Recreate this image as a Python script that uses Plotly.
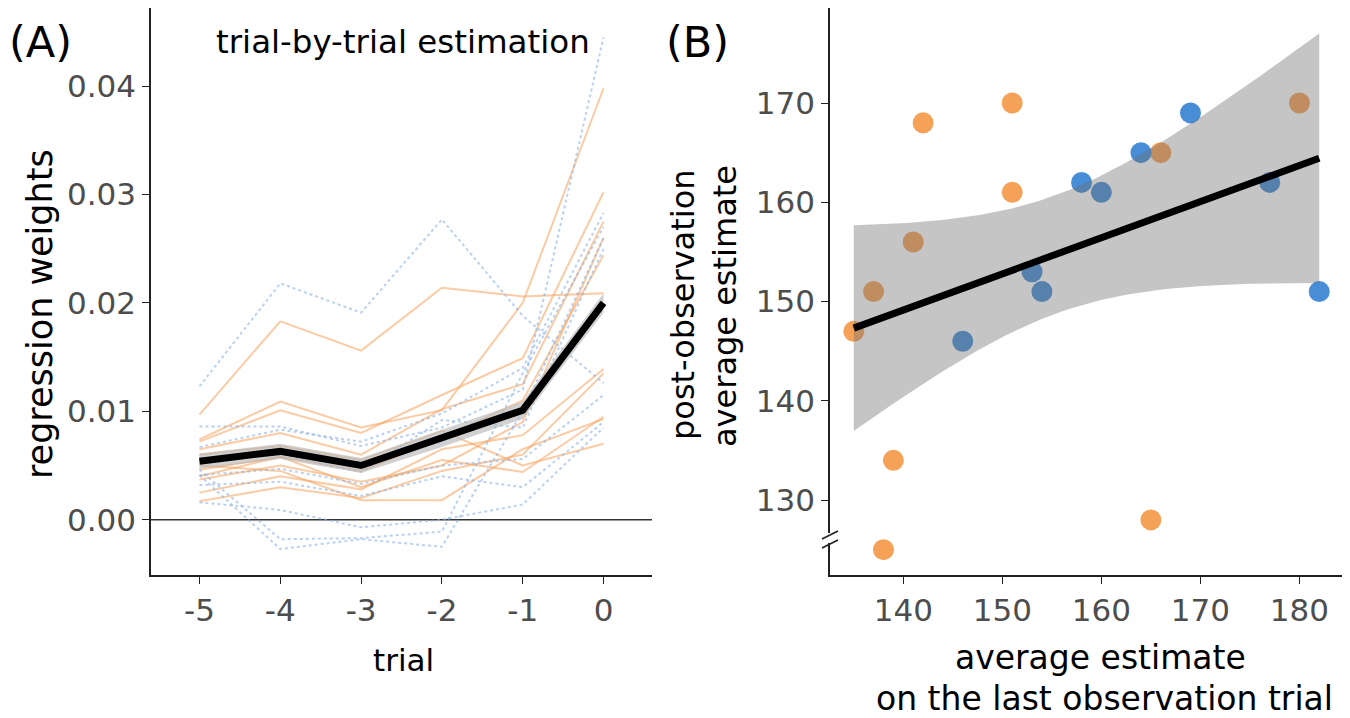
import numpy as np
import plotly.graph_objects as go

# page body has an 8px margin; the figure is sized so it ends at the window edge
OFF = 8
W, H = 1350 - OFF, 718 - OFF

# ---------------- Panel A data ----------------
trials = [-5, -4, -3, -2, -1, 0]
tick_trials = ["-5", "-4", "-3", "-2", "-1", "0"]

blue_lines = [
    [0.0123, 0.0218, 0.0191, 0.0277, 0.0188, 0.0126],
    [0.0086, 0.0086, 0.0068, 0.0085, 0.0120, 0.0445],
    [0.0067, 0.0083, 0.0072, 0.0098, 0.0140, 0.0283],
    [0.0041, 0.0047, 0.0033, 0.0050, 0.0056, 0.0115],
    [0.0032, 0.0035, 0.0022, 0.0040, 0.0030, 0.0090],
    [0.0016, 0.0009, -0.0007, 0.0000, 0.0014, 0.0085],
    [0.0046, -0.0018, -0.0017, -0.0011, 0.0135, 0.0270],
    [0.0041, -0.0027, -0.0018, -0.0025, 0.0100, 0.0260],
    [0.0055, 0.0060, 0.0044, 0.0092, 0.0085, 0.0250],
]
orange_lines = [
    [0.0097, 0.0183, 0.0156, 0.0214, 0.0206, 0.0209],
    [0.0074, 0.0109, 0.0085, 0.0101, 0.0200, 0.0398],
    [0.0072, 0.0101, 0.0080, 0.0115, 0.0149, 0.0302],
    [0.0065, 0.0080, 0.0060, 0.0102, 0.0125, 0.0275],
    [0.0046, 0.0058, 0.0045, 0.0075, 0.0110, 0.0244],
    [0.0037, 0.0050, 0.0035, 0.0050, 0.0090, 0.0260],
    [0.0025, 0.0040, 0.0028, 0.0065, 0.0078, 0.0139],
    [0.0017, 0.0030, 0.0020, 0.0045, 0.0060, 0.0135],
    [0.0040, 0.0058, 0.0030, 0.0055, 0.0044, 0.0095],
    [0.0050, 0.0045, 0.0018, 0.0018, 0.0065, 0.0093],
    [0.0060, 0.0068, 0.0055, 0.0082, 0.0050, 0.0070],
]
mean_weights = [0.0054, 0.0063, 0.0050, 0.0075, 0.0101, 0.0200]
mean_se = [0.0007, 0.0007, 0.0007, 0.0008, 0.0008, 0.0009]
yticks_A = [0.00, 0.01, 0.02, 0.03, 0.04]
yticklabels_A = ["0.00", "0.01", "0.02", "0.03", "0.04"]

# ---------------- Panel B data ----------------
orange_x = [135, 137, 141, 142, 151, 151, 166, 180, 139, 138, 165]
orange_y = [147, 151, 156, 168, 170, 161, 165, 170, 134, 125, 128]
blue_x = [158, 160, 164, 169, 177, 182, 153, 154, 146]
blue_y = [162, 161, 165, 169, 162, 151, 153, 151, 146]
xticks_B = [140, 150, 160, 170, 180]
yticks_B = [130, 140, 150, 160, 170]

# colours
ORANGE_LINE = "rgba(245,160,90,0.55)"
BLUE_LINE = "rgba(140,178,228,0.6)"
ORANGE_PT = "rgb(245,162,88)"
BLUE_PT = "rgb(72,142,215)"
TICK_COL = "#4d4d4d"
FONT = "DejaVu Sans, Liberation Sans, Arial, sans-serif"

fig = go.Figure()

# ---- Panel A traces ----
for ys in orange_lines:
    fig.add_trace(go.Scatter(x=trials, y=ys, mode="lines", xaxis="x", yaxis="y",
                             line=dict(color=ORANGE_LINE, width=2), hoverinfo="skip", showlegend=False))
for ys in blue_lines:
    fig.add_trace(go.Scatter(x=trials, y=ys, mode="lines", xaxis="x", yaxis="y",
                             line=dict(color=BLUE_LINE, width=2, dash="dot"), hoverinfo="skip", showlegend=False))

m = np.array(mean_weights)
se = np.array(mean_se)
fig.add_trace(go.Scatter(x=trials + trials[::-1], y=list(m + se) + list((m - se)[::-1]),
                         fill="toself", fillcolor="rgba(185,185,185,0.65)", line=dict(width=0),
                         mode="lines", xaxis="x", yaxis="y", hoverinfo="skip", showlegend=False))
fig.add_trace(go.Scatter(x=trials, y=mean_weights, mode="lines", xaxis="x", yaxis="y",
                         line=dict(color="black", width=7), showlegend=False))

# ---- Panel B traces ----
fig.add_trace(go.Scatter(x=orange_x, y=orange_y, mode="markers", xaxis="x2", yaxis="y2",
                         marker=dict(color=ORANGE_PT, size=21, line=dict(width=0)), showlegend=False))
fig.add_trace(go.Scatter(x=blue_x, y=blue_y, mode="markers", xaxis="x2", yaxis="y2",
                         marker=dict(color=BLUE_PT, size=21, line=dict(width=0)), showlegend=False))

# OLS fit with 95% CI computed from the points
X = np.array(orange_x + blue_x, dtype=float)
Y = np.array(orange_y + blue_y, dtype=float)
n = len(X)
xm, ym = X.mean(), Y.mean()
sxx = ((X - xm) ** 2).sum()
slope = ((X - xm) * (Y - ym)).sum() / sxx
icpt = ym - slope * xm
resid = Y - (icpt + slope * X)
s = np.sqrt((resid ** 2).sum() / (n - 2))
t_crit = 2.100922  # t(0.975, df=18)
xg = np.linspace(X.min(), X.max(), 80)
yg = icpt + slope * xg
hw = t_crit * s * np.sqrt(1.0 / n + (xg - xm) ** 2 / sxx)
fig.add_trace(go.Scatter(x=list(xg) + list(xg[::-1]), y=list(yg + hw) + list((yg - hw)[::-1]),
                         fill="toself", fillcolor="rgba(110,110,110,0.40)", line=dict(width=0),
                         mode="lines", xaxis="x2", yaxis="y2", hoverinfo="skip", showlegend=False))
fig.add_trace(go.Scatter(x=xg, y=yg, mode="lines", xaxis="x2", yaxis="y2",
                         line=dict(color="black", width=7), showlegend=False))

# ---- layout ----
def px_x(p):
    return min(1.0, max(0.0, (p - OFF) / W))

def px_y(p):
    return min(1.0, max(0.0, (H - (p - OFF)) / H))

axis_common = dict(showgrid=False, zeroline=False, showline=True, linecolor="#222", linewidth=1.6,
                   ticks="outside", ticklen=7, tickwidth=1.4, tickcolor="#222",
                   tickfont=dict(family=FONT, size=31, color=TICK_COL))

fig.update_layout(
    width=W, height=H, margin=dict(l=0, r=0, t=0, b=0),
    paper_bgcolor="white", plot_bgcolor="white",
    font=dict(family=FONT),
    xaxis=dict(domain=[px_x(151), px_x(652)], range=[-5.6, 0.6], anchor="y",
               tickvals=trials, ticktext=tick_trials, **axis_common),
    yaxis=dict(domain=[px_y(575), px_y(8)], range=[-0.0051, 0.0472], anchor="x",
               tickvals=yticks_A, ticktext=yticklabels_A, **axis_common),
    xaxis2=dict(domain=[px_x(830), px_x(1342)], range=[132.6, 184.3], anchor="y2",
                tickvals=xticks_B, **axis_common),
    yaxis2=dict(domain=[px_y(575), px_y(8)], range=[122.45, 179.57], anchor="x2",
                tickvals=yticks_B, **axis_common),
)

shapes = [
    # zero line in panel A
    dict(type="line", xref="x domain", yref="y", x0=0, x1=1, y0=0, y1=0,
         line=dict(color="#333", width=1.4), layer="below"),
    # axis break on panel B y axis
    dict(type="rect", xref="paper", yref="paper", x0=px_x(826), x1=px_x(834),
         y0=px_y(543), y1=px_y(533), fillcolor="white", line=dict(width=0)),
    dict(type="line", xref="paper", yref="paper", x0=px_x(822), y0=px_y(539),
         x1=px_x(838), y1=px_y(531), line=dict(color="#222", width=1.6)),
    dict(type="line", xref="paper", yref="paper", x0=px_x(822), y0=px_y(548),
         x1=px_x(838), y1=px_y(540), line=dict(color="#222", width=1.6)),
]
fig.update_layout(shapes=shapes)

def ann(text, x, y, size, angle=0, color="black"):
    return dict(text=text, x=px_x(x), y=px_y(y), xref="paper", yref="paper",
                showarrow=False, textangle=angle, xanchor="center", yanchor="middle",
                font=dict(family=FONT, size=size, color=color))

annotations = [
    ann("(A)", 40, 42, 43),
    ann("(B)", 697, 42, 43),
    ann("trial-by-trial estimation", 403, 42, 32.5),
    ann("regression weights", 40, 314, 35, -90),
    ann("trial", 403, 660, 31),
    ann("post-observation", 683, 305, 32, -90),
    ann("average estimate", 725, 306, 32, -90),
    ann("average estimate", 1100, 657, 33),
    ann("on the last observation trial", 1104, 698, 33),
]
fig.update_layout(annotations=annotations)

fig.write_html("out.html")
